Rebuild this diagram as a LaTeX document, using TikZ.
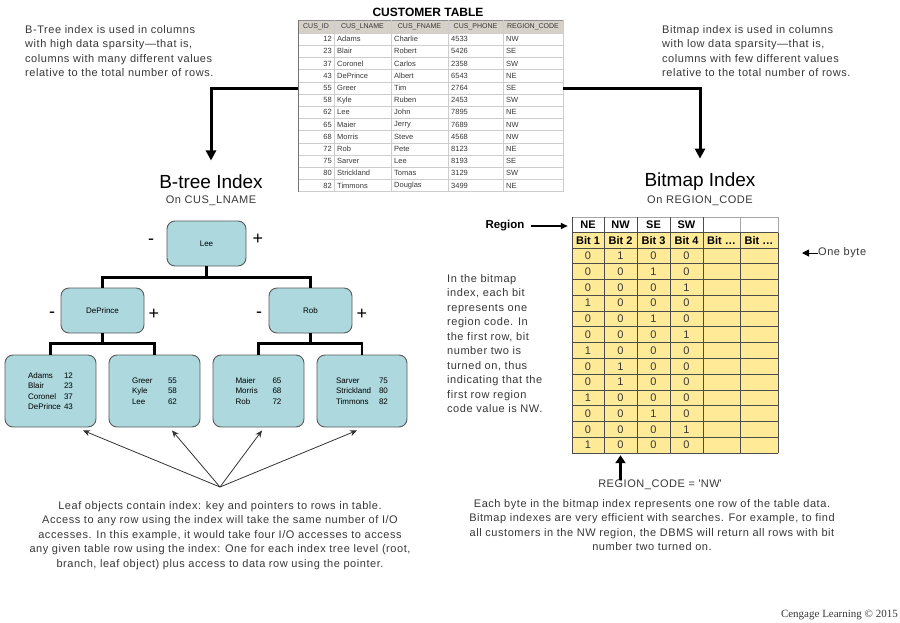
\documentclass[tikz,border=0pt]{standalone}
\usepackage{fontspec}
\setmainfont{Liberation Sans}
\newfontfamily\spaced[LetterSpace=5]{Liberation Sans}
\newfontfamily\credit{Liberation Serif}
\usetikzlibrary{arrows,arrows.meta,positioning,calc}
\definecolor{nodeteal}{RGB}{172,216,222}
\definecolor{bityellow}{RGB}{255,234,152}
\definecolor{hdrgray}{RGB}{214,209,200}
\definecolor{gridgray}{RGB}{205,205,205}
\definecolor{txtgray}{RGB}{55,55,55}

\begin{document}
\begin{tikzpicture}[x=1pt,y=-1pt,>=stealth,
  note/.style={font=\spaced\fontsize{11}{14.5}\selectfont,text=txtgray,inner sep=0pt},
  title/.style={font=\fontsize{19}{22}\selectfont},
  subtitle/.style={font=\spaced\fontsize{11}{13}\selectfont,text=txtgray},
  tnode/.style={draw=black!65,fill=nodeteal,rounded corners=8pt,line width=0.9pt,
                font=\fontsize{8}{10.3}\selectfont,align=left},
  sign/.style={font=\fontsize{18}{18}\selectfont},
  cell/.style={font=\fontsize{7.5}{9}\selectfont,text=txtgray,inner sep=0pt},
  bitcell/.style={font=\fontsize{11}{13}\selectfont,text=txtgray,minimum height=15.77pt,inner sep=0pt},
  bithdr/.style={font=\bfseries\fontsize{11}{13}\selectfont,minimum height=15.5pt,inner sep=0pt},
  bigarrow/.style={line width=3pt,-{Triangle[length=10pt,width=10pt]}},
  ptr/.style={-{Stealth[length=7pt,width=6pt]},draw=black!80,line width=0.8pt},
  branch/.style={line width=2.6pt}]
\useasboundingbox (0,0) rectangle (900,622);

% customer table
\node[font=\bfseries\fontsize{12}{14}\selectfont] (ctitle) at (428,12) {CUSTOMER TABLE};
\fill[hdrgray] (298,20) rectangle (563,33);
\foreach \r in {0,...,13} \draw[gridgray] (298,{33+12.2*\r}) -- (563,{33+12.2*\r});
\draw[black!45] (298,20) -- (563,20);
\foreach \x in {334,391,448,503,563} \draw[gridgray] (\x,20) -- (\x,191.6);
\draw[black!55,line width=0.8pt] (298,20) -- (298,191.6);
\foreach \cx/\hd [count=\i] in {316/CUS\_ID,362.5/CUS\_LNAME,419.5/CUS\_FNAME,475.5/CUS\_PHONE,533/REGION\_CODE}
  \node[cell,font=\fontsize{7}{8}\selectfont] (hd-\i) at (\cx,26.5) {\hd};
\foreach \id/\ln/\fn/\ph/\rg [count=\r] in {12/Adams/Charlie/4533/NW,23/Blair/Robert/5426/SE,
    37/Coronel/Carlos/2358/SW,43/DePrince/Albert/6543/NE,55/Greer/Tim/2764/SE,58/Kyle/Ruben/2453/SW,
    62/Lee/John/7895/NE,65/Maier/Jerry/7689/NW,68/Morris/Steve/4568/NW,72/Rob/Pete/8123/NE,
    75/Sarver/Lee/8193/SE,80/Strickland/Tomas/3129/SW,82/Timmons/Douglas/3499/NE} {
  \node[cell,anchor=east] (cid-\r) at (332,{33+12.2*(\r-0.5)}) {\id};
  \node[cell,anchor=west] (cln-\r) at (337,{33+12.2*(\r-0.5)}) {\ln};
  \node[cell,anchor=west] (cfn-\r) at (394,{33+12.2*(\r-0.5)}) {\fn};
  \node[cell,anchor=west] (cph-\r) at (451,{33+12.2*(\r-0.5)}) {\ph};
  \node[cell,anchor=west] (crg-\r) at (506,{33+12.2*(\r-0.5)}) {\rg};
}
\coordinate (tblW) at (298,88);
\coordinate (tblE) at (563,88);

% notes on top
\node[note,anchor=north west,align=left] (btreenote) at (25,25) {B-Tree index is used in columns\\with high data sparsity—that is,\\columns with many different values\\relative to the total number of rows.};
\node[note,anchor=north west,align=left] (bmapnote) at (662,25) {Bitmap index is used in columns\\with low data sparsity—that is,\\columns with few different values\\relative to the total number of rows.};

% b-tree
\node[title] (btitle) at (211,182) {B-tree Index};
\node[subtitle] (bsub) at (211,201) {On CUS\_LNAME};
\draw[bigarrow] (tblW) -| ([yshift=11pt]btitle.north);

\node[tnode,minimum width=79pt,minimum height=45pt] (lee) at (206.5,243.5) {Lee};
\node[tnode,minimum width=83pt,minimum height=45pt] (dep) at (102.5,310.5) {DePrince};
\node[tnode,minimum width=83pt,minimum height=45pt] (rob) at (310.5,310.5) {Rob};
\node[tnode,minimum width=91pt,minimum height=72pt] (la) at (50.5,391)
  {\makebox[36pt][l]{Adams}12\\\makebox[36pt][l]{Blair}23\\\makebox[36pt][l]{Coronel}37\\\makebox[36pt][l]{DePrince}43};
\node[tnode,minimum width=91pt,minimum height=72pt] (lb) at (154.5,391)
  {\makebox[36pt][l]{Greer}55\\\makebox[36pt][l]{Kyle}58\\\makebox[36pt][l]{Lee}62};
\node[tnode,minimum width=91pt,minimum height=72pt] (lc) at (258.5,391)
  {\makebox[37pt][l]{Maier}65\\\makebox[37pt][l]{Morris}68\\\makebox[37pt][l]{Rob}72};
\node[tnode,minimum width=90pt,minimum height=72pt] (ld) at (362,391)
  {\makebox[43pt][l]{Sarver}75\\\makebox[43pt][l]{Strickland}80\\\makebox[43pt][l]{Timmons}82};

\node[sign] (lee-m) at (151,242) {-};
\node[sign] (lee-p) at (258,239) {+};
\node[sign] (dep-m) at (52,315) {-};
\node[sign] (dep-p) at (154,314) {+};
\node[sign] (rob-m) at (259,315) {-};
\node[sign] (rob-p) at (362,314) {+};

\draw[branch] (lee.south) -- ++(0,11) -| (dep.north);
\draw[branch] (lee.south) -- ++(0,11) -| (rob.north);
\draw[branch] (dep.south) -- ++(0,10) -| (la.north);
\draw[branch] (dep.south) -- ++(0,10) -| (lb.north);
\draw[branch] (rob.south) -- ++(0,10) -| (lc.north);
\draw[branch] (rob.south) -- ++(0,10) -| (ld.north);

\coordinate (ptr) at (220,487);
\draw[ptr] (ptr) -- ([xshift=32.5pt,yshift=-3pt]la.south);
\draw[ptr] (ptr) -- ([xshift=17.5pt,yshift=-3pt]lb.south);
\draw[ptr] (ptr) -- ([xshift=3.5pt,yshift=-3pt]lc.south);
\draw[ptr] (ptr) -- ([xshift=-5pt,yshift=-3pt]ld.south);

\node[note,anchor=north,align=center] (leafnote) at (220,501) {Leaf objects contain index: key and pointers to rows in table.\\Access to any row using the index will take the same number of I/O\\accesses. In this example, it would take four I/O accesses to access\\any given table row using the index: One for each index tree level (root,\\branch, leaf object) plus access to data row using the pointer.};

% bitmap
\node[title] (mtitle) at (700,182) {Bitmap Index};
\node[subtitle] (msub) at (700,201) {On REGION\_CODE};
\draw[bigarrow] (tblE) -| ([yshift=11pt]mtitle.north);

\fill[bityellow] (572,232.5) rectangle (778,453);
\draw[black!35,line width=0.8pt] (572,217) -- (778,217);
\foreach \x in {572,604,637,670,703} \draw[black!70,line width=0.8pt] (\x,217) -- (\x,453);
\foreach \x in {740,778} {
  \draw[black!35,line width=0.8pt] (\x,217) -- (\x,232.5);
  \draw[black!70,line width=0.8pt] (\x,232.5) -- (\x,453);
}
\draw[black!70,line width=0.8pt] (572,232.5) -- (778,232.5);
\foreach \r in {0,...,13} \draw[black!70,line width=0.8pt] (572,{248+15.77*\r}) -- (778,{248+15.77*\r});

\foreach \cx/\cw/\rg [count=\i] in {588/32/NE,620.5/33/NW,653.5/33/SE,686.5/33/SW} {
  \node[bithdr,minimum width=\cw pt] (hdr-\i) at (\cx,224.75) {\rg};
  \node[bithdr] (bit-\i) at (\cx,240.25) {Bit \i};
}
\node[bithdr] (bit-5) at (721.5,240.25) {Bit …};
\node[bithdr] (bit-6) at (759,240.25) {Bit …};
\foreach \a/\b/\c/\d [count=\r] in {0/1/0/0,0/0/1/0,0/0/0/1,1/0/0/0,0/0/1/0,0/0/0/1,1/0/0/0,
    0/1/0/0,0/1/0/0,1/0/0/0,0/0/1/0,0/0/0/1,1/0/0/0} {
  \node[bitcell] (b-\r-1) at (588,{248+15.77*(\r-0.5)}) {\a};
  \node[bitcell] (b-\r-2) at (620.5,{248+15.77*(\r-0.5)}) {\b};
  \node[bitcell] (b-\r-3) at (653.5,{248+15.77*(\r-0.5)}) {\c};
  \node[bitcell] (b-\r-4) at (686.5,{248+15.77*(\r-0.5)}) {\d};
}

\node[font=\bfseries\fontsize{11.5}{13}\selectfont] (region) at (505,226) {Region};
\draw[line width=1.5pt,-{Triangle[length=7pt,width=6pt]},shorten <=3pt,shorten >=4pt]
  (region.east) -- (region.east -| hdr-1.west);

\node[note,anchor=west] (onebyte) at (818,253) {One byte};
\coordinate (bytept) at (802,253);
\draw[line width=1pt,-{Triangle[length=7pt,width=7pt]}] (onebyte.west) -- (bytept);

\node[note,anchor=north west,align=left] (bitnote) at (447,274) {In the bitmap\\index, each bit\\represents one\\region code. In\\the first row, bit\\number two is\\turned on, thus\\indicating that the\\first row region\\code value is NW.};

\node[note] (regcode) at (660,485) {REGION\_CODE = \textquotesingle NW\textquotesingle};
\draw[line width=3pt,-{Triangle[length=8pt,width=10pt]},shorten >=2pt]
  (regcode.north -| b-13-2) -- (b-13-2.south);

\node[note,anchor=north,align=center] (bytenote) at (652,499) {Each byte in the bitmap index represents one row of the table data.\\Bitmap indexes are very efficient with searches. For example, to find\\all customers in the NW region, the DBMS will return all rows with bit\\number two turned on.};

\node[font=\credit\fontsize{11}{13}\selectfont,text=txtgray,anchor=base east,inner sep=0pt] (cengage) at (898,617) {Cengage Learning © 2015};
\end{tikzpicture}
\end{document}
